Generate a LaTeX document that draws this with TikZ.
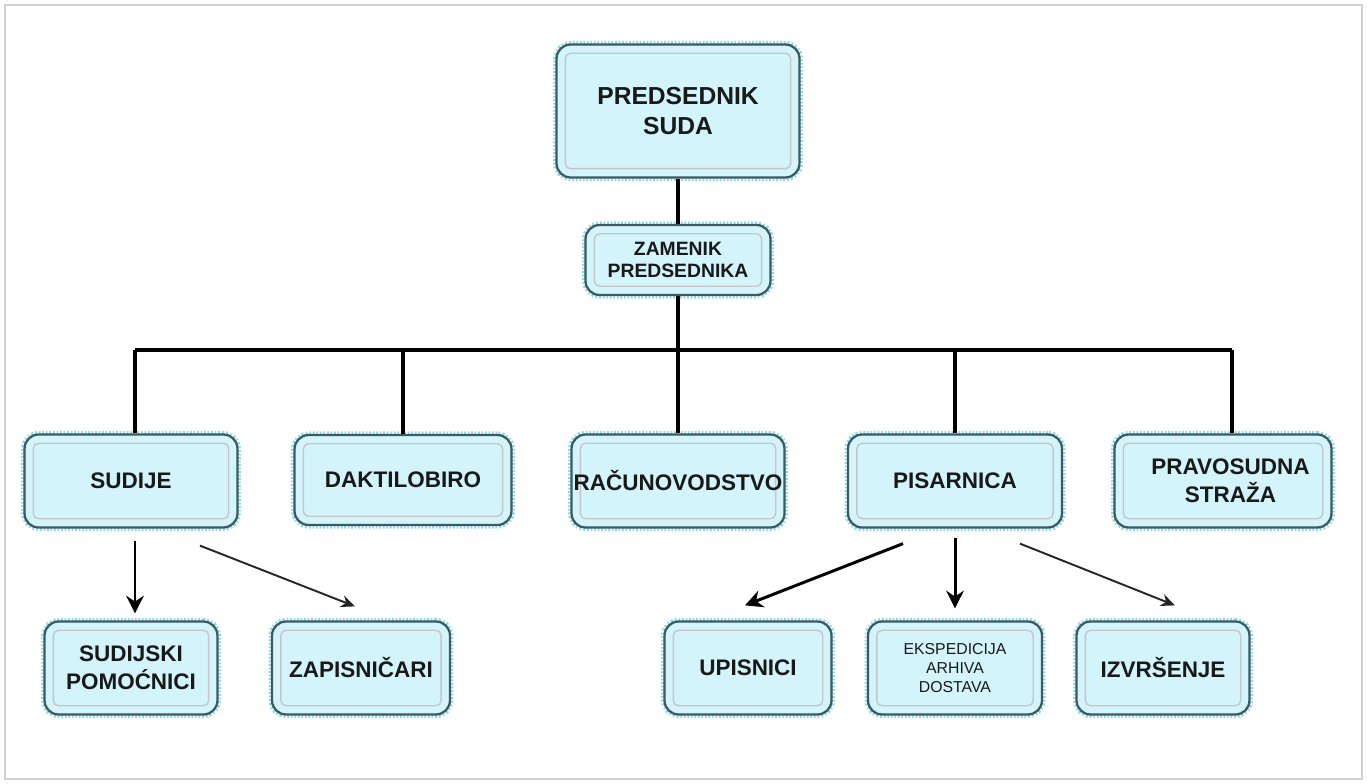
\documentclass[tikz,border=0pt]{standalone}
\usepackage{fontspec}
\setmainfont{Liberation Sans}
\usetikzlibrary{positioning, arrows.meta}
\definecolor{boxfill}{HTML}{D2F4FA}
\definecolor{boxline}{HTML}{3C5A60}
\definecolor{boxhalo}{HTML}{8FDCEB}
\tikzset{
  unit/.style={rectangle, rounded corners=8pt, fill=boxfill, draw=boxline, line width=1.3pt,
    align=center, font=\bfseries\fontsize{12.8}{16}\selectfont, text=black!90,
    preaction={draw=boxhalo, line width=4pt, dash pattern=on 1pt off 1pt},
    path picture={\draw[gray!45, line width=0.8pt, rounded corners=3pt]
      ([shift={(5pt,-5pt)}]path picture bounding box.north west) rectangle
      ([shift={(-5pt,5pt)}]path picture bounding box.south east);}},
  line/.style={draw=black, line width=2pt},
  bigarrow/.style={draw=black, line width=1.7pt, -{Stealth[length=10pt, width=10pt]}},
  smallarrow/.style={draw=black!85, line width=1.1pt, -{Stealth[length=8pt, width=7pt]}}
}

\begin{document}
\begin{tikzpicture}[x=0.02cm, y=-0.02cm]
  \useasboundingbox (0,0) rectangle (1367,784);
  \draw[gray!35, line width=0.8pt] (5,5) rectangle (1362,779);

  % Nodes
  \node (predsednik) [unit, minimum width=4.86cm, minimum height=2.66cm, font=\bfseries\fontsize{14}{17}\selectfont] at (678,111) {PREDSEDNIK\\SUDA};
  \node (zamenik) [unit, minimum width=3.7cm, minimum height=1.4cm, font=\bfseries\fontsize{11}{13}\selectfont] at (678,260) {ZAMENIK\\PREDSEDNIKA};

  \node (sudije) [unit, minimum width=4.26cm, minimum height=1.86cm] at (131,481) {SUDIJE};
  \node (daktilobiro) [unit, minimum width=4.34cm, minimum height=1.8cm] at (403,480) {DAKTILOBIRO};
  \node (racunovodstvo) [unit, minimum width=4.26cm, minimum height=1.86cm, inner xsep=1pt] at (678,481) {RAČUNOVODSTVO};
  \node (pisarnica) [unit, minimum width=4.28cm, minimum height=1.86cm] at (955,481) {PISARNICA};
  \node (straza) [unit, minimum width=4.34cm, minimum height=1.86cm] at (1223,481) {\hspace*{0.3cm}PRAVOSUDNA\\\hspace*{0.3cm}STRAŽA};

  \node (pomocnici) [unit, minimum width=3.46cm, minimum height=1.86cm] at (131,668) {SUDIJSKI\\POMOĆNICI};
  \node (zapisnicari) [unit, minimum width=3.56cm, minimum height=1.86cm] at (361,668) {ZAPISNIČARI};
  \node (upisnici) [unit, minimum width=3.34cm, minimum height=1.86cm] at (748,668) {UPISNICI};
  \node (ekspedicija) [unit, minimum width=3.48cm, minimum height=1.86cm, font=\fontsize{9}{11}\selectfont] at (955,668) {EKSPEDICIJA\\ARHIVA\\DOSTAVA};
  \node (izvrsenje) [unit, minimum width=3.46cm, minimum height=1.86cm] at (1163,668) {IZVRŠENJE};

  % Lines
  \coordinate (bus) at (678,350);
  \draw[line] (predsednik.south) -- (zamenik.north);
  \draw[line] (zamenik.south) -- (bus);
  \draw[line] ([xshift=0.08cm]sudije.north |- bus) -- ([xshift=0.18cm]straza.north |- bus);
  \draw[line] ([xshift=0.08cm]sudije.north |- bus) -- ([xshift=0.08cm]sudije.north);
  \draw[line] (daktilobiro.north |- bus) -- (daktilobiro.north);
  \draw[line] (racunovodstvo.north |- bus) -- (racunovodstvo.north);
  \draw[line] (pisarnica.north |- bus) -- (pisarnica.north);
  \draw[line] ([xshift=0.18cm]straza.north |- bus) -- ([xshift=0.18cm]straza.north);

  % Arrows
  \draw[bigarrow] ([xshift=0.08cm, yshift=-0.24cm]sudije.south) -- ([xshift=0.08cm, yshift=0.14cm]pomocnici.north);
  \draw[smallarrow] ([xshift=1.38cm, yshift=-0.34cm]sudije.south) -- ([xshift=-0.12cm, yshift=0.28cm]zapisnicari.north);
  \draw[bigarrow] ([xshift=-1.04cm, yshift=-0.3cm]pisarnica.south) -- ([xshift=-0.06cm, yshift=0.3cm]upisnici.north);
  \draw[bigarrow] ([yshift=-0.18cm]pisarnica.south) -- ([yshift=0.24cm]ekspedicija.north);
  \draw[smallarrow] ([xshift=1.3cm, yshift=-0.3cm]pisarnica.south) -- ([xshift=0.24cm, yshift=0.3cm]izvrsenje.north);
\end{tikzpicture}
\end{document}
